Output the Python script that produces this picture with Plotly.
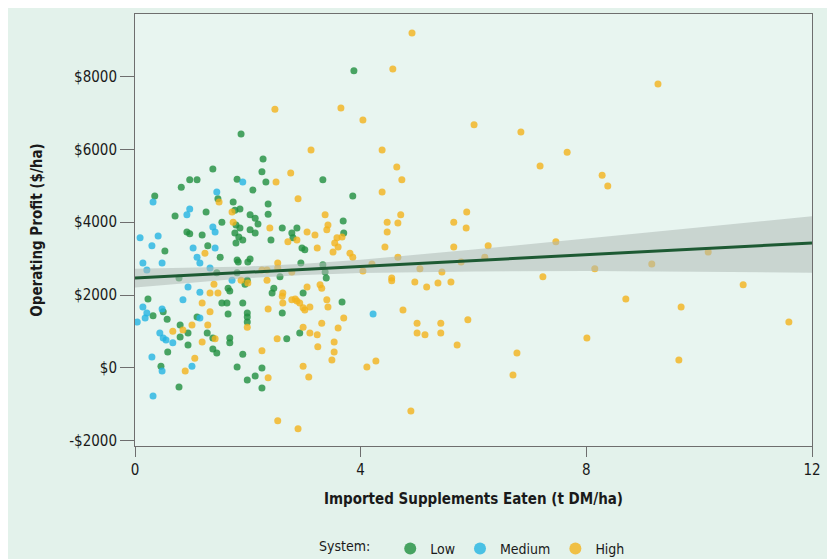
import plotly.graph_objects as go

# ---------------- data ----------------
low_x = [3.88, 1.88, 2.27, 2.25, 2.32, 1.81, 2.09, 1.38, 0.97, 1.10, 0.82, 0.35, 3.33, 3.86, 1.47, 1.74,
         2.36, 1.86, 1.26, 1.77, 0.71, 1.54, 2.04, 2.13, 2.18, 2.04, 2.13, 1.79, 1.86, 1.77, 1.84, 1.91,
         1.79, 0.92, 0.97, 1.19, 0.53, 1.29, 1.51, 1.81, 2.04, 2.36, 2.41, 2.61, 2.78, 2.87, 2.80, 2.96,
         3.01, 3.69, 3.70, 2.94, 3.33, 3.37, 3.39, 2.57, 0.78, 1.45, 1.65, 1.68, 1.95, 1.99, 2.46, 2.43,
         2.98, 1.83, 2.00, 1.81, 0.23, 3.67, 0.32, 0.50, 0.57, 0.46, 0.78, 0.58, 0.94, 0.80, 0.80, 0.94,
         1.10, 1.28, 1.38, 1.38, 1.45, 1.54, 1.63, 1.65, 1.68, 1.68, 1.91, 1.99, 1.99, 1.99, 1.91, 1.81,
         1.99, 2.13, 2.25, 2.25, 2.61, 2.69, 2.92]
low_y = [8150, 6420, 5730, 5380, 5100, 5180, 4880, 5460, 5160, 5160, 4960, 4720, 5160, 4720, 4640, 4550,
         4500, 4360, 4280, 4330, 4170, 4000, 4200, 4110, 3950, 3790, 3700, 3920, 3840, 3700, 3590, 3510,
         3430, 3730, 3680, 3650, 3210, 3350, 3040, 2960, 2990, 4220, 3510, 3840, 3700, 3840, 3570, 3290,
         3240, 4030, 3700, 2880, 2830, 2630, 2470, 2500, 2470, 2610, 2190, 2110, 2300, 2410, 2190, 2060,
         2060, 2910, 2910, 2610, 1890, 1810, 1430, 1540, 1340, 50, -520, 440, 630, 1180, 850, 960,
         1400, 960, 820, 520, 410, 1780, 1780, 1480, 820, 690, 1780, 1510, 1400, 1260, 380, 30,
         -330, -220, 0, -550, 1510, 800, 960]

med_x = [1.91, 0.32, 1.45, 0.97, 0.92, 1.38, 1.42, 0.09, 0.41, 0.30, 1.03, 1.42, 1.10, 0.14, 0.21, 0.48,
         0.94, 1.15, 1.33, 1.72, 0.85, 0.14, 0.21, 0.04, 0.44, 0.50, 0.55, 0.67, 0.30, 0.48, 0.32, 1.01,
         1.15, 4.22, 0.18, 1.15, 0.48]
med_y = [5100, 4550, 4830, 4360, 4200, 3870, 3730, 3570, 3620, 3350, 3290, 3290, 3040, 2880, 2690, 2880,
         2220, 2080, 2740, 2410, 1870, 1670, 1510, 1260, 960, 820, 770, 690, 300, -80, -770, 50,
         1370, 1480, 1370, 2880, 1620]

high_x = [4.91, 4.57, 9.27, 6.01, 6.84, 7.66, 7.18, 8.28, 8.38, 4.38, 4.64, 4.73, 4.38, 3.65, 4.04, 3.12,
          2.76, 2.50, 2.89, 2.48, 1.49, 4.71, 4.47, 4.66, 4.47, 4.43, 4.66, 5.05, 4.55, 5.88, 5.65, 5.87,
          5.65, 6.26, 6.20, 5.78, 5.44, 7.46, 7.23, 8.15, 9.16, 10.16, 4.55, 4.96, 5.17, 5.37, 5.60, 10.78,
          4.75, 5.00, 5.42, 5.00, 5.14, 5.42, 5.90, 5.71, 6.77, 6.70, 8.01, 8.70, 9.68, 9.64, 11.59, 4.89,
          3.37, 3.42, 3.40, 3.58, 3.54, 3.60, 3.51, 3.67, 3.81, 3.86, 3.05, 3.19, 2.71, 2.87, 3.23, 2.39,
          1.74, 1.24, 1.72, 4.20, 4.04, 2.53, 2.53, 2.25, 2.34, 2.78, 1.40, 1.33, 1.47, 1.88, 2.00, 2.34,
          2.62, 2.61, 3.05, 3.28, 3.31, 1.19, 1.33, 1.29, 1.19, 1.06, 0.89, 1.01, 0.67, 0.85, 1.42, 1.99,
          2.36, 2.62, 2.25, 2.36, 2.52, 2.98, 3.10, 3.23, 3.24, 2.98, 3.08, 3.31, 3.70, 3.60, 3.53, 3.53,
          3.49, 3.40, 3.42, 2.78, 2.84, 2.87, 2.92, 2.98, 3.01, 3.10, 4.11, 4.27, 2.53, 2.89]
high_y = [9190, 8200, 7790, 6670, 6470, 5920, 5540, 5290, 4990, 5980, 5510, 5160, 4830, 7130, 6800, 5980,
          5350, 5100, 4640, 7100, 4550, 4200, 4000, 3980, 3730, 3320, 3040, 2720, 2470, 4280, 4000, 3840,
          3320, 3350, 3040, 2910, 2630, 3460, 2500, 2720, 2850, 3180, 2390, 2360, 2220, 2330, 2360, 2280,
          1590, 1230, 1230, 960, 910, 960, 1320, 630, 410, -190, 820, 1890, 1670, 220, 1260, -1180,
          4200, 3920, 3790, 3570, 3430, 3320, 3180, 3590, 3150, 3040, 3730, 3650, 3460, 3510, 3290, 3840,
          4000, 3150, 4280, 2850, 2660, 2880, 2740, 2690, 2690, 2630, 2300, 2060, 2060, 2410, 2330, 2410,
          2060, 1970, 2220, 2280, 2190, 1780, 1540, 1180, 710, 270, -80, 1180, 1010, 1040, 800, 1120,
          1620, 1780, 470, -270, 800, 1120, 960, 910, 580, 50, -250, 1230, 1370, 1100, 710, 440,
          220, 1870, 1670, 1870, 1890, 1840, 1780, 1650, 1590, 1670, 30, 190, -1450, -1670]

# fitted regression line and its confidence band
fit_x = [0, 1, 2, 3, 4, 6, 8, 10, 12]
fit_y = [2465, 2545, 2626, 2706, 2787, 2947, 3108, 3269, 3430]
fit_hi = [2725, 2746, 2786, 2858, 2969, 3248, 3553, 3865, 4160]
fit_lo = [2205, 2344, 2466, 2554, 2605, 2646, 2660, 2640, 2615]

x_ticks = [0, 4, 8, 12]
y_ticks = [-2000, 0, 2000, 4000, 6000, 8000]
y_tick_text = ["-$2000", "$0", "$2000", "$4000", "$6000", "$8000"]

# ---------------- figure ----------------
FONT = "Liberation Sans Narrow, DejaVu Sans Condensed, Roboto, sans-serif"
c_low = "#1f8f3e"
c_med = "#23b4e2"
c_high = "#f3b31c"

fig = go.Figure()
for name, xs, ys, col in [("Low", low_x, low_y, c_low),
                          ("Medium", med_x, med_y, c_med),
                          ("High", high_x, high_y, c_high)]:
    fig.add_trace(go.Scatter(x=xs, y=ys, mode="markers", name=name,
                             marker=dict(color=col, size=7, opacity=0.8, line=dict(width=0))))

fig.add_trace(go.Scatter(x=fit_x, y=fit_hi, mode="lines", line=dict(width=0, color="rgba(0,0,0,0)"),
                         showlegend=False, hoverinfo="skip"))
fig.add_trace(go.Scatter(x=fit_x, y=fit_lo, mode="lines", line=dict(width=0, color="rgba(0,0,0,0)"),
                         fill="tonexty", fillcolor="rgba(175,185,182,0.55)",
                         showlegend=False, hoverinfo="skip"))
fig.add_trace(go.Scatter(x=fit_x, y=fit_y, mode="lines", line=dict(width=3, color="#1d5a33"),
                         showlegend=False, hoverinfo="skip"))

fig.update_layout(
    width=835, height=559,
    margin=dict(l=127, r=31, t=6, b=121, autoexpand=False),
    paper_bgcolor="#e3f2eb",
    plot_bgcolor="#e8f5f0",
    font=dict(family=FONT, size=14, color="#1a1a1a"),
    showlegend=True,
    legend=dict(orientation="h", x=0.5, xanchor="center", y=-0.238, yanchor="middle",
                traceorder="normal", itemsizing="constant",
                title=dict(text="System:   ", side="left", font=dict(size=14)),
                font=dict(size=14), itemwidth=30, bgcolor="rgba(0,0,0,0)"),
)
fig.update_xaxes(range=[0, 12], tickvals=x_ticks, showgrid=False, zeroline=False,
                 showline=True, linecolor="#6e6e6e", linewidth=1, mirror=True,
                 ticks="outside", ticklen=10, tickcolor="#6e6e6e",
                 tickfont=dict(size=15),
                 title=dict(text="<b>Imported Supplements Eaten (t DM/ha)</b>", standoff=15,
                            font=dict(size=15)))
fig.update_yaxes(range=[-2140, 9710], tickvals=y_ticks, ticktext=y_tick_text, showgrid=False,
                 zeroline=False, showline=True, linecolor="#6e6e6e", linewidth=1, mirror=True,
                 ticks="outside", ticklen=14, tickcolor="#6e6e6e",
                 tickfont=dict(size=15),
                 title=dict(text="<b>Operating Profit ($/ha)</b>", standoff=22, font=dict(size=15)))

fig.write_html("out.html")
